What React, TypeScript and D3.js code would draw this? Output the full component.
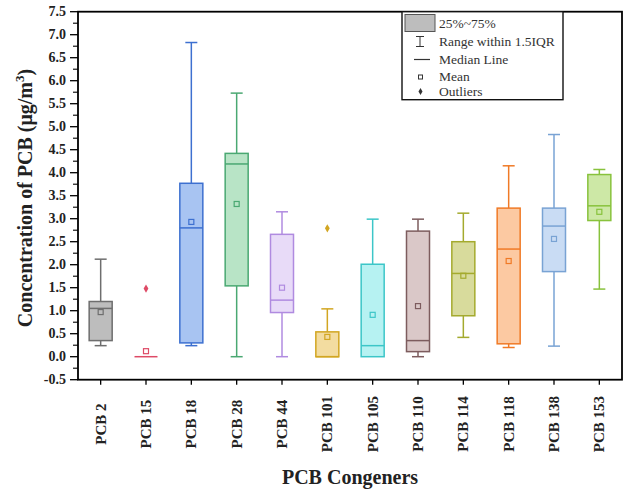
import React, { useRef, useEffect } from "react";
import * as d3 from "d3";

const categories = ["PCB 2", "PCB 15", "PCB 18", "PCB 28", "PCB 44", "PCB 101", "PCB 105", "PCB 110", "PCB 114", "PCB 118", "PCB 138", "PCB 153"];
const whiskerLow = [0.24, 0, 0.24, 0, 0, 0, 0, 0, 0.42, 0.2, 0.23, 1.47];
const q1 = [0.35, 0, 0.3, 1.54, 0.96, 0, 0, 0.11, 0.89, 0.28, 1.85, 2.96];
const median = [1.05, 0, 2.8, 4.19, 1.23, 0, 0.24, 0.35, 1.81, 2.34, 2.84, 3.28];
const q3 = [1.2, 0, 3.77, 4.42, 2.66, 0.54, 2.01, 2.73, 2.5, 3.23, 3.23, 3.96];
const whiskerHigh = [2.12, 0, 6.83, 5.73, 3.15, 1.04, 2.99, 2.99, 3.12, 4.15, 4.83, 4.07];
const means = [0.97, 0.12, 2.93, 3.32, 1.5, 0.43, 0.91, 1.1, 1.76, 2.08, 2.56, 3.15];
const outliers: [number, number][] = [[1, 1.48], [5, 2.79]];

const strokes = ["#6e6e6e", "#de4a66", "#3d70d0", "#4aa872", "#b08be0", "#d2a622", "#3cc6c8", "#7d5c5e", "#a4aa2e", "#f07a26", "#79a3d4", "#88c23c"];
const fills = ["#bdbdbd", "#f6c2cc", "#a8c4f2", "#b8e4c6", "#e8dbf8", "#f3dca0", "#b6f2f2", "#dac8c8", "#d8db9c", "#fcc9a2", "#c9dcf4", "#cde8a6"];

const legendItems = ["25%~75%", "Range within 1.5IQR", "Median Line", "Mean", "Outliers"];
const yTicks = d3.range(-0.5, 7.51, 0.5);

const W = 628;
const H = 491;
const left = 78;
const right = 622;
const top = 11.7;
const bottom = 379.7;

const App = () => {
  const svgRef = useRef<SVGSVGElement>(null);

  useEffect(() => {
    const svg = d3.select(svgRef.current);
    svg.selectAll("*").remove();

    const x = d3.scaleLinear().domain([0.5, 12.5]).range([left, right]);
    const y = d3.scaleLinear().domain([-0.5, 7.5]).range([bottom, top]);
    const boxW = 23;
    const capW = 12;
    const serif = "'Liberation Serif', 'Times New Roman', serif";

    // y axis ticks
    const yAxis = svg.append("g");
    yTicks.forEach((t) => {
      yAxis.append("line")
        .attr("x1", left - 8).attr("x2", left)
        .attr("y1", y(t)).attr("y2", y(t))
        .attr("stroke", "#000").attr("stroke-width", 1.3);
      yAxis.append("text")
        .attr("x", left - 12).attr("y", y(t) + 4.5)
        .attr("text-anchor", "end")
        .attr("font-family", serif).attr("font-weight", "bold")
        .attr("font-size", "14px").attr("fill", "#222")
        .text(t.toFixed(1));
      if (t < 7.5) {
        yAxis.append("line")
          .attr("x1", left - 5).attr("x2", left)
          .attr("y1", y(t + 0.25)).attr("y2", y(t + 0.25))
          .attr("stroke", "#000").attr("stroke-width", 1.1);
      }
    });

    // x axis ticks + labels
    const xAxis = svg.append("g");
    categories.forEach((c, i) => {
      const cx = x(i + 1);
      xAxis.append("line")
        .attr("x1", cx).attr("x2", cx)
        .attr("y1", bottom).attr("y2", bottom + 5)
        .attr("stroke", "#000").attr("stroke-width", 1.3);
      xAxis.append("text")
        .attr("transform", `translate(${cx + 5},424) rotate(-90)`)
        .attr("text-anchor", "middle")
        .attr("font-family", serif).attr("font-weight", "bold")
        .attr("font-size", "15px").attr("fill", "#222")
        .text(c);
    });

    // boxes
    const boxes = svg.append("g");
    categories.forEach((c, i) => {
      const cx = x(i + 1);
      const g = boxes.append("g");
      const col = strokes[i];
      g.append("line")
        .attr("x1", cx).attr("x2", cx)
        .attr("y1", y(whiskerHigh[i])).attr("y2", y(q3[i]))
        .attr("stroke", col).attr("stroke-width", 1.5);
      g.append("line")
        .attr("x1", cx).attr("x2", cx)
        .attr("y1", y(q1[i])).attr("y2", y(whiskerLow[i]))
        .attr("stroke", col).attr("stroke-width", 1.5);
      if (whiskerHigh[i] > q3[i]) {
        g.append("line")
          .attr("x1", cx - capW / 2).attr("x2", cx + capW / 2)
          .attr("y1", y(whiskerHigh[i])).attr("y2", y(whiskerHigh[i]))
          .attr("stroke", col).attr("stroke-width", 1.5);
      }
      if (whiskerLow[i] < q1[i]) {
        g.append("line")
          .attr("x1", cx - capW / 2).attr("x2", cx + capW / 2)
          .attr("y1", y(whiskerLow[i])).attr("y2", y(whiskerLow[i]))
          .attr("stroke", col).attr("stroke-width", 1.5);
      }
      if (q3[i] > q1[i]) {
        g.append("rect")
          .attr("x", cx - boxW / 2).attr("y", y(q3[i]))
          .attr("width", boxW).attr("height", y(q1[i]) - y(q3[i]))
          .attr("fill", fills[i]).attr("stroke", col).attr("stroke-width", 1.5);
      }
      g.append("line")
        .attr("x1", cx - boxW / 2).attr("x2", cx + boxW / 2)
        .attr("y1", y(median[i])).attr("y2", y(median[i]))
        .attr("stroke", col).attr("stroke-width", 1.5);
      g.append("rect")
        .attr("x", cx - 2.5).attr("y", y(means[i]) - 2.5)
        .attr("width", 5).attr("height", 5)
        .attr("fill", "none").attr("stroke", col).attr("stroke-width", 1.2);
    });

    outliers.forEach(([i, v]) => {
      boxes.append("path")
        .attr("d", d3.symbol(d3.symbolDiamond, 20)())
        .attr("transform", `translate(${x(i + 1)},${y(v)})`)
        .attr("fill", strokes[i]);
    });

    // frame
    svg.append("rect")
      .attr("x", left).attr("y", top)
      .attr("width", right - left).attr("height", bottom - top)
      .attr("fill", "none").attr("stroke", "#000").attr("stroke-width", 1.8);

    // legend
    const lg = svg.append("g");
    lg.append("rect")
      .attr("x", 402).attr("y", top)
      .attr("width", 161).attr("height", 88)
      .attr("fill", "#fff").attr("stroke", "#111").attr("stroke-width", 1.4);
    const rowY = [23.5, 41.5, 59.5, 77, 91.5];
    legendItems.forEach((t, k) => {
      lg.append("text")
        .attr("x", 439).attr("y", rowY[k] + 4)
        .attr("font-family", serif).attr("font-size", "13.5px").attr("fill", "#333")
        .text(t);
    });
    lg.append("rect").attr("x", 405).attr("y", 14.5).attr("width", 30).attr("height", 17)
      .attr("fill", "#bdbdbd").attr("stroke", "#555").attr("stroke-width", 1);
    const ry = rowY[1];
    lg.append("line").attr("x1", 420).attr("x2", 420).attr("y1", ry - 5).attr("y2", ry + 5).attr("stroke", "#333");
    lg.append("line").attr("x1", 416).attr("x2", 424).attr("y1", ry - 5).attr("y2", ry - 5).attr("stroke", "#333");
    lg.append("line").attr("x1", 416).attr("x2", 424).attr("y1", ry + 5).attr("y2", ry + 5).attr("stroke", "#333");
    const my = rowY[2];
    lg.append("line").attr("x1", 414).attr("x2", 430).attr("y1", my).attr("y2", my).attr("stroke", "#333").attr("stroke-width", 1.2);
    const mny = rowY[3];
    lg.append("rect").attr("x", 418.5).attr("y", mny - 2).attr("width", 4).attr("height", 4)
      .attr("fill", "none").attr("stroke", "#333").attr("stroke-width", 1);
    const oy = rowY[4];
    lg.append("path").attr("d", d3.symbol(d3.symbolDiamond, 14)())
      .attr("transform", `translate(420.5,${oy})`).attr("fill", "#333");

    // titles
    svg.append("text")
      .attr("transform", `translate(32,198) rotate(-90)`)
      .attr("text-anchor", "middle")
      .attr("font-family", serif).attr("font-weight", "bold")
      .attr("font-size", "20px").attr("fill", "#222")
      .html("Concentration of PCB (μg/m<tspan font-size='13px' dy='-8'>3</tspan><tspan dy='8'>)</tspan>");
    svg.append("text")
      .attr("x", 350).attr("y", 484)
      .attr("text-anchor", "middle")
      .attr("font-family", serif).attr("font-weight", "bold")
      .attr("font-size", "20px").attr("fill", "#222")
      .text("PCB Congeners");
  }, []);

  return (
    <div>
      <svg ref={svgRef} width={W} height={H} style={{ position: "absolute", left: 0, top: 0, background: "#fff" }} />
    </div>
  );
};

export default App;
